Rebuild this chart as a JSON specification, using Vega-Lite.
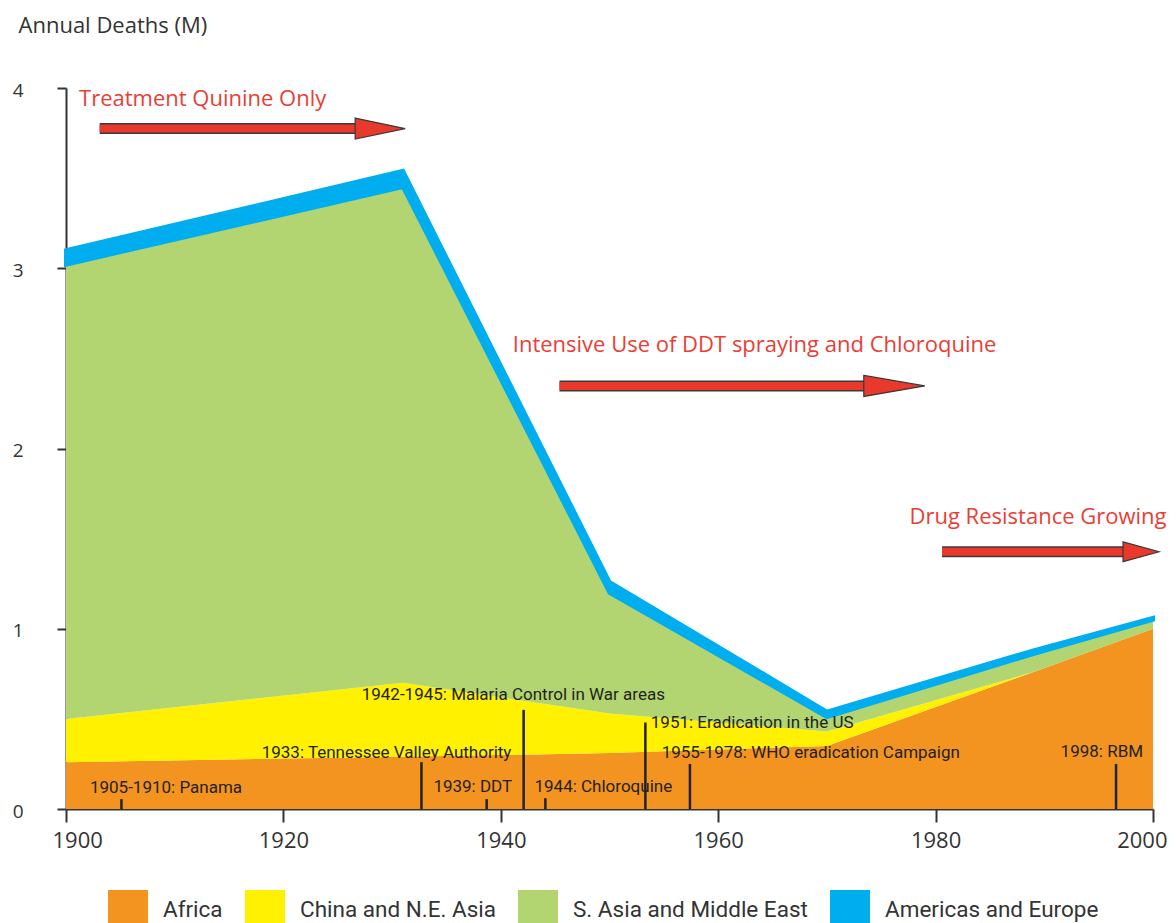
{
  "$schema": "https://vega.github.io/schema/vega-lite/v6.json",
  "width": 1087,
  "height": 721,
  "autosize": {"type": "none"},
  "padding": {"left": 66, "top": 88, "right": 23, "bottom": 114},
  "background": "white",
  "config": {"view": {"stroke": null}, "axis": {"grid": false}},
  "datasets": {
    "deaths": [
      {"year": 1900, "region": "Africa", "k": 1, "deaths": 0.26},
      {"year": 1931, "region": "Africa", "k": 1, "deaths": 0.29},
      {"year": 1950, "region": "Africa", "k": 1, "deaths": 0.31},
      {"year": 1970, "region": "Africa", "k": 1, "deaths": 0.35},
      {"year": 1989, "region": "Africa", "k": 1, "deaths": 0.76},
      {"year": 2000, "region": "Africa", "k": 1, "deaths": 1.0},
      {"year": 1900, "region": "China and N.E. Asia", "k": 2, "deaths": 0.24},
      {"year": 1931, "region": "China and N.E. Asia", "k": 2, "deaths": 0.41},
      {"year": 1950, "region": "China and N.E. Asia", "k": 2, "deaths": 0.22},
      {"year": 1970, "region": "China and N.E. Asia", "k": 2, "deaths": 0.08},
      {"year": 1989, "region": "China and N.E. Asia", "k": 2, "deaths": 0.0},
      {"year": 2000, "region": "China and N.E. Asia", "k": 2, "deaths": 0.0},
      {"year": 1900, "region": "S. Asia and Middle East", "k": 3, "deaths": 2.52},
      {"year": 1931, "region": "S. Asia and Middle East", "k": 3, "deaths": 2.75},
      {"year": 1950, "region": "S. Asia and Middle East", "k": 3, "deaths": 0.67},
      {"year": 1970, "region": "S. Asia and Middle East", "k": 3, "deaths": 0.08},
      {"year": 1989, "region": "S. Asia and Middle East", "k": 3, "deaths": 0.1},
      {"year": 2000, "region": "S. Asia and Middle East", "k": 3, "deaths": 0.05},
      {"year": 1900, "region": "Americas and Europe", "k": 4, "deaths": 0.08},
      {"year": 1931, "region": "Americas and Europe", "k": 4, "deaths": 0.09},
      {"year": 1950, "region": "Americas and Europe", "k": 4, "deaths": 0.06},
      {"year": 1970, "region": "Americas and Europe", "k": 4, "deaths": 0.03},
      {"year": 1989, "region": "Americas and Europe", "k": 4, "deaths": 0.02},
      {"year": 2000, "region": "Americas and Europe", "k": 4, "deaths": 0.01}
    ],
    "events": [
      {"event": "1905-1910: Panama", "year": 1905.1, "top": 0.055, "tx": 1902.2, "ty": 0.117},
      {"event": "1933: Tennessee Valley Authority", "year": 1932.7, "top": 0.26, "tx": 1918.0, "ty": 0.31},
      {"event": "1939: DDT", "year": 1938.7, "top": 0.055, "tx": 1933.8, "ty": 0.12},
      {"event": "1942-1945: Malaria Control in War areas", "year": 1942.1, "top": 0.55, "tx": 1927.2, "ty": 0.632},
      {"event": "1944: Chloroquine", "year": 1944.1, "top": 0.06, "tx": 1943.1, "ty": 0.12},
      {"event": "1951: Eradication in the US", "year": 1953.3, "top": 0.48, "tx": 1953.8, "ty": 0.477},
      {"event": "1955-1978: WHO eradication Campaign", "year": 1957.4, "top": 0.25, "tx": 1954.8, "ty": 0.31},
      {"event": "1998: RBM", "year": 1996.6, "top": 0.25, "tx": 1991.5, "ty": 0.316}
    ],
    "phases": [
      {"phase": "Treatment Quinine Only", "lx": 1901.2, "ly": 3.939, "x1": 1903.1, "hx": 1928.9, "y": 3.775, "arrow": "a1"},
      {"phase": "Intensive Use of DDT spraying and Chloroquine", "lx": 1941.1, "ly": 2.574, "x1": 1945.4, "hx": 1976.2, "y": 2.347, "arrow": "a2"},
      {"phase": "Drug Resistance Growing", "lx": 1977.6, "ly": 1.62, "x1": 1980.6, "hx": 1998.9, "y": 1.427, "arrow": "a3"}
    ]
  },
  "layer": [
    {
      "data": {"name": "deaths"},
      "mark": {"type": "area", "interpolate": "linear", "strokeWidth": 4, "strokeJoin": "miter"},
      "encoding": {
        "x": {
          "field": "year", "type": "quantitative",
          "scale": {"domain": [1900, 2000], "nice": false, "zero": false},
          "axis": {
            "title": null,
            "values": [1900, 1920, 1940, 1960, 1980, 2000],
            "format": "d",
            "labelFont": "Open Sans", "labelFontSize": 22, "labelColor": "#333333",
            "labelPadding": 8, "labelFlush": true, "labelFlushOffset": 14,
            "tickSize": 13, "tickWidth": 2, "tickColor": "#333333",
            "domainColor": "#333333", "domainWidth": 2,
            "encode": {"labels": {"update": {"dy": {"signal": "datum.value === 1960 ? 8 : datum.value === 1980 ? 5 : 0"}}}}
          }
        },
        "y": {
          "field": "deaths", "type": "quantitative", "stack": "zero",
          "scale": {"domain": [0, 4], "nice": false},
          "axis": {
            "title": "Annual Deaths (M)",
            "titleAngle": 0, "titleAlign": "left", "titleBaseline": "middle",
            "titleX": -48, "titleY": -63,
            "titleFont": "Open Sans", "titleFontSize": 22, "titleFontWeight": "normal", "titleColor": "#333333",
            "values": [0, 1, 2, 3, 4],
            "format": "d",
            "labelFont": "Open Sans", "labelFontSize": 19, "labelColor": "#333333",
            "labelPadding": 34, "labelOffset": 2,
            "tickSize": 9, "tickWidth": 2, "tickColor": "#333333",
            "domainColor": "#333333", "domainWidth": 2
          }
        },
        "color": {
          "field": "region", "type": "nominal",
          "scale": {
            "domain": ["Africa", "China and N.E. Asia", "S. Asia and Middle East", "Americas and Europe"],
            "range": ["#F39420", "#FFF100", "#B2D571", "#00AEEF"]
          },
          "legend": {
            "title": null, "orient": "none", "direction": "horizontal", "columns": 4,
            "legendX": 42, "legendY": 802, "padding": 0,
            "symbolType": "square", "symbolSize": 1600, "symbolStrokeWidth": 0, "symbolOpacity": 1,
            "labelFont": "Roboto", "labelFontSize": 22.5, "labelColor": "#333333",
            "labelOffset": 15, "columnPadding": 22, "labelLimit": 400
          }
        },
        "stroke": {
          "field": "region", "type": "nominal", "legend": null,
          "scale": {
            "domain": ["Africa", "China and N.E. Asia", "S. Asia and Middle East", "Americas and Europe"],
            "range": ["transparent", "transparent", "transparent", "#00AEEF"]
          }
        },
        "order": {"field": "k", "type": "quantitative"}
      }
    },
    {
      "data": {"name": "events"},
      "mark": {"type": "rule", "color": "#222222", "strokeWidth": 2.5},
      "encoding": {
        "x": {"field": "year", "type": "quantitative", "scale": {"domain": [1900, 2000], "nice": false, "zero": false}},
        "y": {"field": "top", "type": "quantitative", "scale": {"domain": [0, 4], "nice": false}},
        "y2": {"datum": 0}
      }
    },
    {
      "data": {"name": "events"},
      "mark": {"type": "text", "align": "left", "baseline": "middle", "font": "Roboto", "fontSize": 17, "color": "#231F20"},
      "encoding": {
        "x": {"field": "tx", "type": "quantitative", "scale": {"domain": [1900, 2000], "nice": false, "zero": false}},
        "y": {"field": "ty", "type": "quantitative", "scale": {"domain": [0, 4], "nice": false}},
        "text": {"field": "event"}
      }
    },
    {
      "data": {"name": "phases"},
      "mark": {"type": "rule", "color": "#3A3A3A", "strokeWidth": 11, "strokeCap": "butt"},
      "encoding": {
        "x": {"field": "x1", "type": "quantitative", "scale": {"domain": [1900, 2000], "nice": false, "zero": false}},
        "x2": {"field": "hx"},
        "y": {"field": "y", "type": "quantitative", "scale": {"domain": [0, 4], "nice": false}}
      }
    },
    {
      "data": {"name": "phases"},
      "mark": {"type": "rule", "color": "#E8392C", "strokeWidth": 8, "strokeCap": "butt"},
      "encoding": {
        "x": {"field": "x1", "type": "quantitative", "scale": {"domain": [1900, 2000], "nice": false, "zero": false}},
        "x2": {"field": "hx"},
        "y": {"field": "y", "type": "quantitative", "scale": {"domain": [0, 4], "nice": false}}
      }
    },
    {
      "data": {"name": "phases"},
      "mark": {"type": "point", "filled": true, "fill": "#E8392C", "fillOpacity": 1, "opacity": 1, "stroke": "#3A3A3A", "strokeWidth": 1.2, "size": 3600},
      "encoding": {
        "x": {"field": "hx", "type": "quantitative", "scale": {"domain": [1900, 2000], "nice": false, "zero": false}},
        "y": {"field": "y", "type": "quantitative", "scale": {"domain": [0, 4], "nice": false}},
        "shape": {
          "field": "arrow", "type": "nominal", "legend": null,
          "scale": {
            "domain": ["a1", "a2", "a3"],
            "range": ["M-0.833,-0.35L0.833,0L-0.833,0.35Z", "M-1.017,-0.35L1.017,0L-1.017,0.35Z", "M-0.6,-0.33L0.6,0L-0.6,0.33Z"]
          }
        }
      }
    },
    {
      "data": {"name": "phases"},
      "mark": {"type": "text", "align": "left", "baseline": "middle", "font": "Open Sans", "fontSize": 22, "color": "#E93E36"},
      "encoding": {
        "x": {"field": "lx", "type": "quantitative", "scale": {"domain": [1900, 2000], "nice": false, "zero": false}},
        "y": {"field": "ly", "type": "quantitative", "scale": {"domain": [0, 4], "nice": false}},
        "text": {"field": "phase"}
      }
    }
  ]
}
